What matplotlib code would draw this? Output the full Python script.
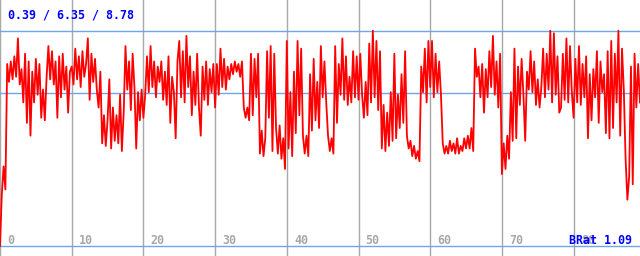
import numpy as np
import matplotlib.pyplot as plt

# BRat-Verlauf, ein Wert alle 0.25 Einheiten
step = 0.25
brat = [
    # 0 - 10
    0.39, 2.4, 3.5, 2.6, 7.5, 6.8, 7.6, 6.9, 7.8, 7.0,
    8.5, 6.7, 7.3, 6.0, 7.9, 5.2, 7.6, 4.7, 7.2, 6.0,
    7.7, 6.3, 7.5, 5.4, 6.5, 5.3, 7.0, 8.2, 6.9, 8.0,
    6.7, 7.6, 5.4, 7.8, 6.2, 7.9, 6.5, 7.4, 5.6, 7.2,
    # 10 - 20
    7.4, 6.7, 8.1, 6.9, 7.8, 6.6, 8.0, 7.0, 7.5, 8.5,
    6.1, 7.9, 6.8, 7.7, 6.5, 5.8, 7.2, 4.4, 5.5, 4.3,
    5.3, 6.9, 4.2, 5.8, 4.5, 5.5, 4.4, 6.3, 4.1, 5.6,
    8.2, 6.5, 7.6, 5.7, 7.9, 6.6, 4.2, 6.4, 5.3, 6.5,
    # 20 - 30
    5.4, 6.3, 7.8, 6.4, 8.2, 6.6, 7.6, 6.2, 7.4, 6.8,
    7.6, 6.1, 7.2, 5.9, 7.8, 5.2, 7.0, 6.4, 4.6, 7.6,
    8.4, 6.2, 8.0, 6.0, 8.6, 6.6, 7.8, 5.5, 7.2, 5.9,
    7.9, 5.8, 4.7, 7.4, 6.1, 7.6, 5.9, 7.3, 6.4, 7.5,
    # 30 - 40
    5.8, 7.5, 6.3, 8.1, 6.6, 7.7, 6.5, 7.4, 6.9, 7.5,
    7.1, 7.6, 7.2, 7.5, 7.0, 7.6, 5.8, 5.4, 5.8, 5.3,
    7.9, 5.5, 7.7, 6.2, 7.9, 4.0, 4.9, 3.9, 4.6, 8.0,
    5.4, 8.2, 4.1, 7.9, 5.0, 4.0, 5.1, 3.8, 4.6, 3.4,
    # 40 - 50
    8.4, 4.2, 6.4, 3.9, 7.2, 4.8, 8.4, 5.5, 8.1, 4.7,
    4.0, 4.7, 3.9, 7.1, 4.9, 7.7, 5.3, 6.8, 5.0, 8.2,
    6.2, 7.6, 6.0, 4.7, 4.1, 4.6, 4.0, 8.2, 5.2, 7.5,
    6.3, 8.5, 6.1, 7.8, 5.9, 7.0, 6.0, 8.0, 6.2, 7.8,
    # 50 - 60
    6.1, 7.9, 6.3, 5.4, 6.8, 5.5, 8.3, 6.0, 8.8, 6.2,
    8.4, 5.7, 8.0, 4.2, 5.9, 4.1, 5.6, 4.3, 6.4, 4.5,
    7.9, 4.6, 6.3, 5.0, 7.1, 5.2, 8.0, 4.7, 4.2, 4.5,
    3.9, 4.3, 3.8, 4.1, 3.7, 7.4, 6.4, 8.1, 6.0, 8.4,
    # 60 - 70
    6.6, 8.4, 6.2, 7.9, 6.4, 7.6, 6.3, 4.4, 4.0, 4.3,
    4.0, 4.5, 4.1, 4.4, 4.0, 4.6, 4.0, 4.3, 4.1, 4.6,
    4.2, 4.7, 4.2, 5.0, 4.1, 8.1, 7.0, 7.4, 6.2, 7.5,
    5.6, 7.3, 6.2, 8.0, 6.6, 8.6, 6.3, 7.6, 5.8, 7.9,
    # 70 - 80
    3.2, 4.4, 3.4, 4.7, 3.8, 6.4, 4.5, 8.1, 4.6, 7.4,
    5.9, 7.7, 6.3, 4.5, 7.2, 6.5, 8.0, 6.4, 7.6, 5.9,
    6.9, 5.8, 6.6, 8.1, 6.2, 7.9, 6.5, 8.8, 6.0, 8.7,
    6.3, 7.8, 5.6, 5.8, 7.9, 6.1, 8.5, 6.0, 8.2, 6.4,
    # 80 - 89.25
    5.4, 7.7, 6.0, 8.2, 5.9, 7.5, 6.2, 7.8, 4.6, 7.1,
    5.3, 7.3, 6.2, 8.0, 5.2, 7.6, 6.4, 7.1, 4.8, 8.0,
    4.6, 8.4, 5.0, 7.9, 6.0, 8.8, 4.7, 8.1, 6.5, 3.8,
    2.2, 3.1, 7.4, 2.8, 7.9, 5.8, 7.5, 6.0,
]

# Min / Mittel / Max
stats = [0.39, 6.35, 8.78]
x_ticks = [0, 10, 20, 30, 40, 50, 60, 70, 80]
label = 'BRat 1.09'

x = np.arange(len(brat)) * step

fig = plt.figure(figsize=(6.4, 2.56), dpi=100)
ax = fig.add_axes([0, 0, 1, 1])
ax.set_xlim(0, 89.26)
ax.set_ylim(0, 10)
ax.axis('off')

# Gitter
for t in x_ticks:
    ax.axvline(t, color='#a8a8a8', lw=1, zorder=1)
for s in stats:
    ax.axhline(s, color='#6ea6ec', lw=1, zorder=1)

ax.plot(x, brat, color='#ff0000', lw=1.3, zorder=2)

mono = dict(family='DejaVu Sans Mono', weight='bold', size=8.4)

# x-Beschriftung innerhalb des Plots
for t in x_ticks:
    ax.text(t + 1.0, 0.47, str(t), color='#a8a8a8', ha='left', va='baseline',
            zorder=3, **mono)

fig.text(8 / 640, 1 - 19 / 256, ' / '.join(f'{s:.2f}' for s in stats),
         color='#0000ff', ha='left', va='baseline', **mono)
# im Original liegt "BRat" über der 80
fig.text(632 / 640, 1 - 244 / 256, label, color='#0000ff',
         ha='right', va='baseline', zorder=4, **mono)

fig.savefig('out.png', dpi=100)
